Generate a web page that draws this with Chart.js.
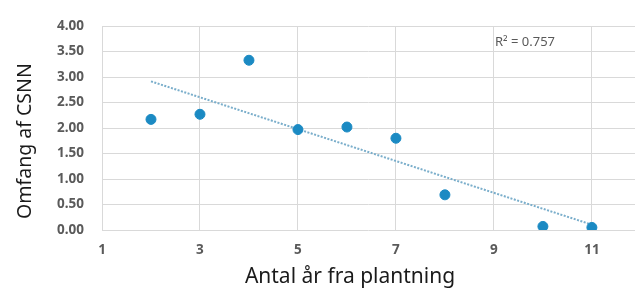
<!DOCTYPE html>
<html>
<head>
<meta charset="utf-8">
<script src="https://cdn.jsdelivr.net/npm/chart.js@4"></script>
<style>
  html, body { margin: 0; padding: 0; background: #fff; }
  #wrap { width: 641px; height: 291px; }
</style>
</head>
<body>
<div id="wrap"><canvas id="graf"></canvas></div>
<script>
// data
const aarX = [2, 3, 4, 5, 6, 7, 8, 10, 11];
const omfangY = [2.17, 2.27, 3.33, 1.97, 2.02, 1.80, 0.69, 0.07, 0.05];
const xTicks = [1, 3, 5, 7, 9, 11];
const yTicks = [0, 0.5, 1, 1.5, 2, 2.5, 3, 3.5, 4];
const r2Label = 'R² = 0.757';
const xTitle = 'Antal år fra plantning';
const yTitle = 'Omfang af CSNN';

// linear trendline (least squares) from the points
const n = aarX.length;
const mx = aarX.reduce((a, b) => a + b, 0) / n;
const my = omfangY.reduce((a, b) => a + b, 0) / n;
let sxy = 0, sxx = 0;
for (let i = 0; i < n; i++) {
    sxy += (aarX[i] - mx) * (omfangY[i] - my);
    sxx += (aarX[i] - mx) * (aarX[i] - mx);
}
const slope = sxy / sxx;
const icpt = my - slope * mx;
const xLo = Math.min(...aarX), xHi = Math.max(...aarX);
const trend = [{ x: xLo, y: icpt + slope * xLo }, { x: xHi, y: icpt + slope * xHi }];

const tickFont = { family: 'Noto Sans', size: 13.5, weight: 'bold' };

// axis titles and R² label, placed like in the original
const textPlugin = {
    id: 'tekster',
    afterDraw(chart) {
        const c = chart.ctx;
        const a = chart.chartArea;
        c.save();
        c.fillStyle = '#595959';
        c.textBaseline = 'middle';
        c.textAlign = 'left';
        c.font = '13px "Noto Sans"';
        c.fillText(r2Label, a.left + 393, a.top + 16);

        c.fillStyle = '#1a1a1a';
        c.textAlign = 'center';
        c.font = '21px "Noto Sans"';
        c.fillText(xTitle, a.left + 248, a.bottom + 47);

        c.translate(25, a.top + 115);
        c.rotate(-Math.PI / 2);
        c.font = '19.5px "Noto Sans"';
        c.fillText(yTitle, 0, 0);
        c.restore();
    }
};

new Chart(document.getElementById('graf'), {
    type: 'scatter',
    data: {
        datasets: [{
            label: 'Omfang',
            data: aarX.map((x, i) => ({ x: x, y: omfangY[i] })),
            backgroundColor: '#1b8ac3',
            borderColor: '#1b8ac3',
            pointRadius: 5,
            order: 1
        }, {
            type: 'line',
            label: 'Trend',
            data: trend,
            borderColor: '#7aaecb',
            borderWidth: 2,
            borderDash: [2, 1.5],
            pointRadius: 0,
            fill: false,
            order: 2
        }]
    },
    options: {
        responsive: true,
        maintainAspectRatio: false,
        animation: false,
        layout: { padding: { top: 26, right: 0, left: 0, bottom: 0 } },
        plugins: { legend: { display: false }, tooltip: { enabled: false } },
        scales: {
            x: {
                type: 'linear',
                min: 1,
                max: 11.88,
                afterBuildTicks: s => { s.ticks = xTicks.map(v => ({ value: v })); },
                afterFit: s => { s.height = 61; },
                grid: { color: '#d9d9d9', drawTicks: false },
                border: { display: false },
                ticks: { font: tickFont, color: '#5a5a5a', padding: 12 },
                title: { display: false }
            },
            y: {
                min: 0,
                max: 4,
                afterBuildTicks: s => { s.ticks = yTicks.map(v => ({ value: v })); },
                afterFit: s => { s.width = 102; },
                grid: { color: '#d9d9d9', drawTicks: false },
                border: { display: false },
                ticks: { font: tickFont, color: '#5a5a5a', padding: 18, callback: v => v.toFixed(2) },
                title: { display: false }
            }
        }
    },
    plugins: [textPlugin]
});
</script>
</body>
</html>
